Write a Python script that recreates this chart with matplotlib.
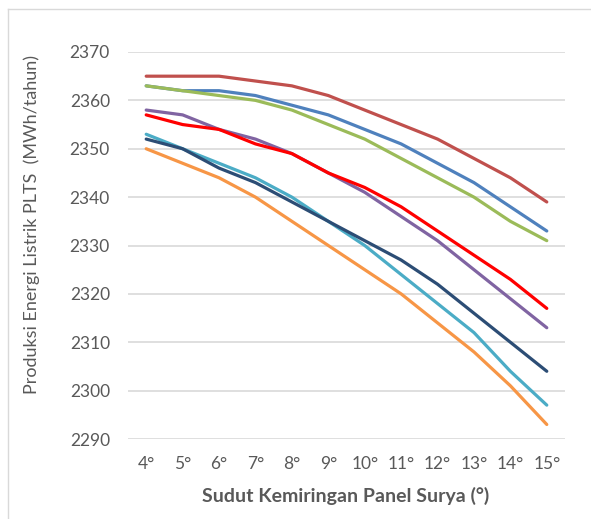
import matplotlib
matplotlib.use("Agg")
import matplotlib.pyplot as plt
from matplotlib.lines import Line2D

# Sudut kemiringan (derajat)
sudut = [4, 5, 6, 7, 8, 9, 10, 11, 12, 13, 14, 15]
label_sudut = [f"{s}°" for s in sudut]

# Produksi energi (MWh/tahun) per seri
seri_biru = [2363, 2362, 2362, 2361, 2359, 2357, 2354, 2351, 2347, 2343, 2338, 2333]
seri_coklat = [2365, 2365, 2365, 2364, 2363, 2361, 2358, 2355, 2352, 2348, 2344, 2339]
seri_hijau = [2363, 2362, 2361, 2360, 2358, 2355, 2352, 2348, 2344, 2340, 2335, 2331]
seri_ungu = [2358, 2357, 2354, 2352, 2349, 2345, 2341, 2336, 2331, 2325, 2319, 2313]
seri_cyan = [2353, 2350, 2347, 2344, 2340, 2335, 2330, 2324, 2318, 2312, 2304, 2297]
seri_oranye = [2350, 2347, 2344, 2340, 2335, 2330, 2325, 2320, 2314, 2308, 2301, 2293]
seri_navy = [2352, 2350, 2346, 2343, 2339, 2335, 2331, 2327, 2322, 2316, 2310, 2304]
seri_merah = [2357, 2355, 2354, 2351, 2349, 2345, 2342, 2338, 2333, 2328, 2323, 2317]

plt.rcParams["font.family"] = ["Lato", "DejaVu Sans"]

W, H = 591, 519
fig = plt.figure(figsize=(W / 100, H / 100), dpi=100)
ax = fig.add_axes([128 / W, 1 - 439 / H, (565 - 128) / W, (439 - 52) / H])

# Urutan gambar: garis terakhir berada di atas
semua = [
    (seri_biru, "#4F81BD"),
    (seri_coklat, "#C0504D"),
    (seri_hijau, "#9BBB59"),
    (seri_ungu, "#8064A2"),
    (seri_cyan, "#4BACC6"),
    (seri_oranye, "#F79646"),
    (seri_navy, "#2C4D75"),
    (seri_merah, "#FF0000"),
]
for nilai, warna in semua:
    ax.plot(sudut, nilai, color=warna, lw=2.3, solid_capstyle="round", solid_joinstyle="round")

ax.set_xlim(3.5, 15.5)
ax.set_ylim(2290, 2370)
ax.set_yticks(range(2290, 2371, 10))
ax.set_xticks(sudut)
ax.set_xticklabels(label_sudut)
ax.grid(axis="y", color="#D9D9D9", lw=1.2)
ax.set_axisbelow(True)
for s in ax.spines.values():
    s.set_visible(False)
ax.tick_params(length=0, labelsize=12.5, labelcolor="#595959")
ax.tick_params(axis="y", pad=13)
ax.tick_params(axis="x", pad=12)

fig.text(346 / W, 1 - 496 / H, "Sudut Kemiringan Panel Surya (°)", ha="center", va="center",
         fontsize=14, fontweight="bold", color="#595959")
fig.text(32 / W, 1 - 225 / H, "Produksi Energi Listrik PLTS  (MWh/tahun)", ha="center", va="center",
         rotation=90, fontsize=13, color="#595959")

# Bingkai area grafik (hanya sisi atas dan kiri terlihat)
fig.add_artist(Line2D([8 / W, 1.0], [1 - 9 / H, 1 - 9 / H], color="#D9D9D9", lw=1, transform=fig.transFigure))
fig.add_artist(Line2D([8 / W, 8 / W], [0.0, 1 - 9 / H], color="#D9D9D9", lw=1, transform=fig.transFigure))

fig.savefig("out.png", dpi=100)
